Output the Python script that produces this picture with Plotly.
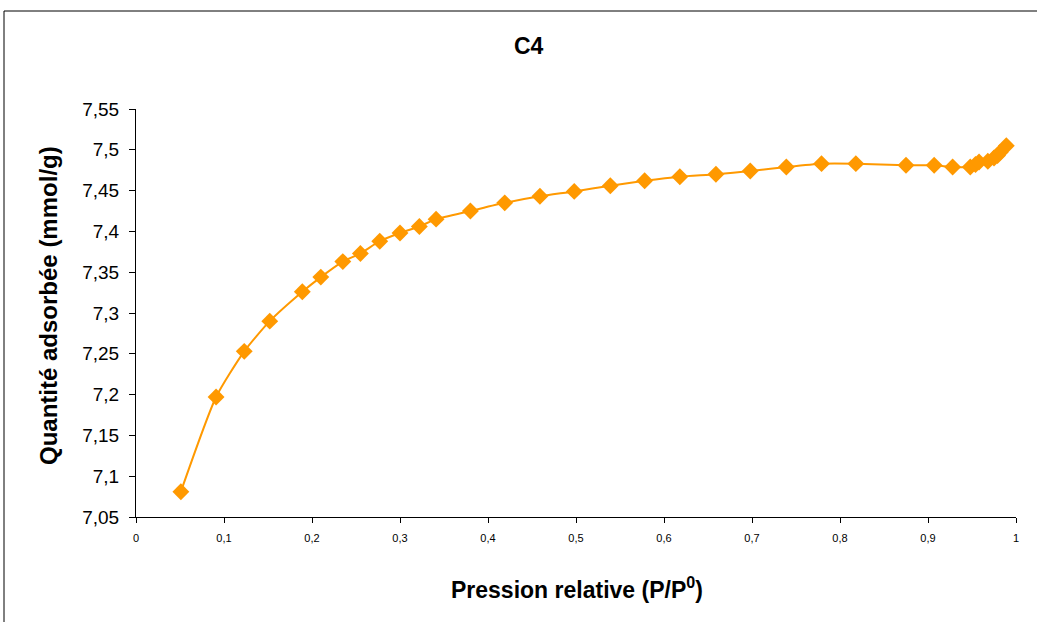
import plotly.graph_objects as go

title_text = "C4"
x_label = "Pression relative (P/P<sup>0</sup>)"
y_label = "Quantité adsorbée (mmol/g)"

pression = [0.051, 0.091, 0.123, 0.152, 0.189, 0.210, 0.235, 0.255, 0.277, 0.300,
            0.322, 0.341, 0.380, 0.419, 0.459, 0.498, 0.539, 0.578, 0.618, 0.659,
            0.698, 0.739, 0.779, 0.818, 0.875, 0.907, 0.928, 0.948, 0.954, 0.958,
            0.968, 0.975, 0.979, 0.982, 0.989]
quantite = [7.081, 7.197, 7.253, 7.290, 7.326, 7.344, 7.363, 7.373, 7.388, 7.398,
            7.406, 7.415, 7.425, 7.435, 7.443, 7.449, 7.456, 7.462, 7.467, 7.470,
            7.474, 7.479, 7.483, 7.483, 7.481, 7.481, 7.479, 7.479, 7.482, 7.485,
            7.486, 7.490, 7.493, 7.497, 7.505]

x_ticks = [0, 0.1, 0.2, 0.3, 0.4, 0.5, 0.6, 0.7, 0.8, 0.9, 1]
x_tick_text = ["0", "0,1", "0,2", "0,3", "0,4", "0,5", "0,6", "0,7", "0,8", "0,9", "1"]
y_ticks = [7.05, 7.1, 7.15, 7.2, 7.25, 7.3, 7.35, 7.4, 7.45, 7.5, 7.55]
y_tick_text = ["7,05", "7,1", "7,15", "7,2", "7,25", "7,3", "7,35", "7,4", "7,45", "7,5", "7,55"]

orange = "#FF9900"
FONT = "Liberation Sans, Arial, sans-serif"

W, H = 1037, 622
L, R, T, B = 136, 21, 109, 105
PW, PH = W - L - R, H - T - B

def px_x(px):
    return (px - L) / PW

def px_y(py):
    return (H - B - py) / PH

fig = go.Figure()
fig.add_trace(go.Scatter(
    x=pression, y=quantite, mode="lines+markers",
    line=dict(color=orange, width=2, shape="spline", smoothing=0.6),
    marker=dict(symbol="diamond", size=13, color=orange),
    showlegend=False,
))

fig.update_layout(
    width=W, height=H,
    margin=dict(l=L, r=R, t=T, b=B),
    paper_bgcolor="white", plot_bgcolor="white",
    font=dict(family=FONT, color="black"),
    xaxis=dict(range=[0, 1], tickvals=x_ticks, ticktext=x_tick_text,
               showgrid=False, zeroline=False, showline=True, linecolor="black", linewidth=1,
               ticks="outside", ticklen=5, tickcolor="black",
               tickfont=dict(size=11), ticklabelstandoff=6),
    yaxis=dict(range=[7.05, 7.55], tickvals=y_ticks, ticktext=y_tick_text,
               showgrid=False, zeroline=False, showline=True, linecolor="black", linewidth=1,
               ticks="outside", ticklen=6, tickcolor="black",
               tickfont=dict(size=19), ticklabelstandoff=6),
    annotations=[
        dict(text="<b>" + title_text + "</b>", xref="paper", yref="paper",
             x=px_x(529), y=px_y(46), xanchor="center", yanchor="middle",
             showarrow=False, font=dict(size=23)),
        dict(text="<b>" + x_label + "</b>", xref="paper", yref="paper",
             x=px_x(577), y=px_y(588), xanchor="center", yanchor="middle",
             showarrow=False, font=dict(size=23)),
        dict(text="<b>" + y_label + "</b>", xref="paper", yref="paper",
             x=px_x(48), y=px_y(306), xanchor="center", yanchor="middle",
             textangle=-90, showarrow=False, font=dict(size=24)),
    ],
    shapes=[
        dict(type="line", xref="paper", yref="paper", x0=px_x(4), x1=px_x(1040),
             y0=px_y(11), y1=px_y(11), line=dict(color="black", width=1)),
        dict(type="line", xref="paper", yref="paper", x0=px_x(4), x1=px_x(4),
             y0=px_y(11), y1=px_y(630), line=dict(color="black", width=1)),
    ],
)

fig.write_html("out.html", config={"displayModeBar": False},
               post_script="document.body.style.margin='0';")
